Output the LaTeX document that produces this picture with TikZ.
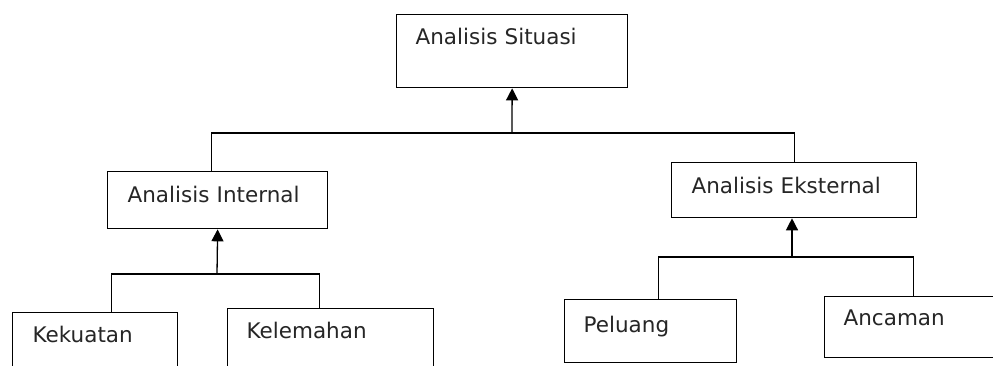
\documentclass[tikz,border=0pt]{standalone}
\usepackage{fontspec}
\setmainfont{DejaVu Sans}
\usetikzlibrary{arrows.meta}
\tikzset{
  box/.style={draw, line width=1.3pt, anchor=north west, inner ysep=0pt, inner xsep=19pt,
    align=left, font=\fontsize{21.5}{25}\selectfont, text=black!85},
  arr/.style={line width=1.3pt, -{Triangle[width=12pt,length=12pt]}},
  link/.style={line width=1.3pt}
}
\begin{document}
\begin{tikzpicture}[x=1pt, y=-1pt]
    \clip (0,0) rectangle (993,365);
    \fill[white] (0,0) rectangle (993,365);

    % Top level
    \node[box, text width=193pt, text height=30pt, text depth=43pt] (sit) at (396,14) {Analisis Situasi};

    % Second level
    \node[box, inner xsep=20pt, text width=180pt, text height=31pt, text depth=26pt] (int) at (107,171) {Analisis Internal};
    \node[box, inner xsep=20pt, text width=205pt, text height=31pt, text depth=24pt] (ext) at (671,162) {Analisis Eksternal};

    % Third level
    \node[box, inner xsep=20pt, text width=125pt, text height=30pt, text depth=42pt] (kek) at (12,312) {Kekuatan};
    \node[box, text width=168pt, text height=30pt, text depth=46pt] (kel) at (227,308) {Kelemahan};
    \node[box, text width=134pt, text height=33pt, text depth=30pt] (pel) at (564,299) {Peluang};
    \node[box, text width=140pt, text height=29pt, text depth=32pt] (anc) at (824,296) {Ancaman};

    % Junctions
    \coordinate (jtop) at (512,133);
    \coordinate (jint) at (217,274);
    \coordinate (jext) at (792,257);

    % Connectors
    \draw[link] ([xshift=-6pt]int.north) |- (jtop) -| (ext.north);
    \draw[arr] (jtop) -- (sit.south);
    \draw[link] ([xshift=16pt]kek.north) |- (jint) -| ([xshift=-11pt]kel.north);
    \draw[arr] (jint) -- (int.south);
    \draw[link] ([xshift=8pt]pel.north) |- (jext) -| (anc.north);
    \draw[arr] (jext) -- (ext.south -| jext);
\end{tikzpicture}
\end{document}
